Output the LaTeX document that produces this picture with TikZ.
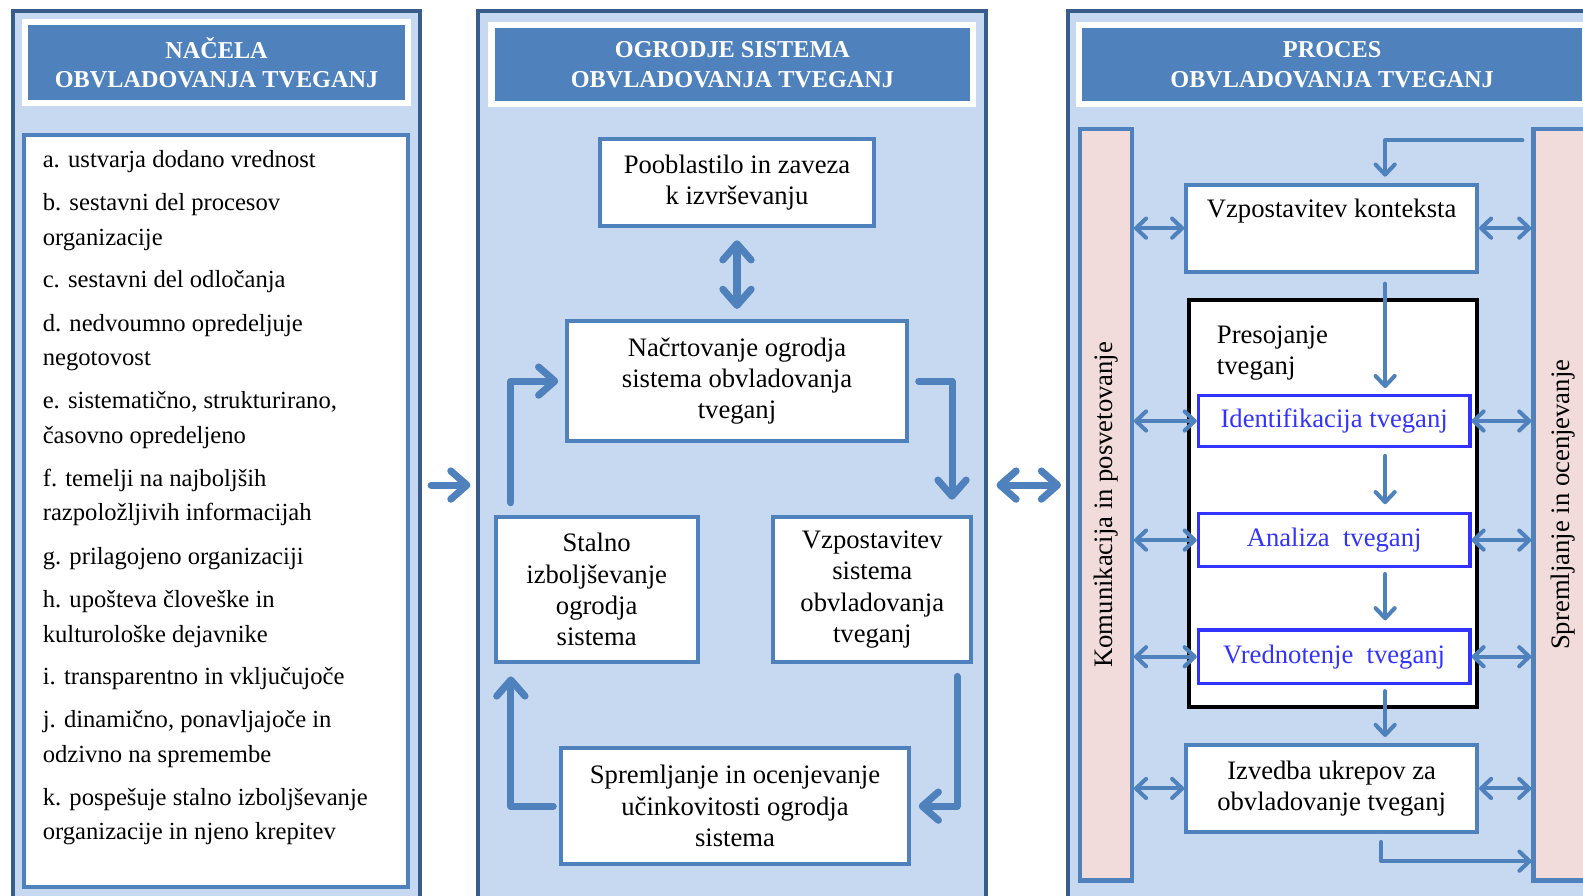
\documentclass[tikz,border=0pt]{standalone}
\usepackage{fontspec}
\setmainfont{Liberation Serif}
\usetikzlibrary{arrows.meta,calc}
\definecolor{panelfill}{HTML}{C6D9F1}
\definecolor{paneldraw}{HTML}{385D8A}
\definecolor{accent}{HTML}{4F81BD}
\definecolor{pinkbar}{HTML}{F2DCDB}
\definecolor{stepblue}{HTML}{3333FF}

\begin{document}
\begin{tikzpicture}[x=0.5pt,y=-0.5pt,
	panelbg/.style={draw=paneldraw,fill=panelfill,line width=2pt,inner sep=0pt},
	headbox/.style={draw=white,fill=accent,line width=3.2pt,text=white,align=center,inner sep=0pt,
		font=\bfseries\fontsize{12}{14.5}\selectfont},
	stepbox/.style={draw=accent,fill=white,line width=2pt,align=center,inner sep=0pt,
		font=\fontsize{13.2}{15.5}\selectfont},
	riskbox/.style={draw=stepblue,fill=white,line width=1.6pt,text=stepblue,inner sep=0pt,
		minimum width=134.5pt,font=\fontsize{13.2}{15.5}\selectfont},
	sidebar/.style={draw=accent,fill=pinkbar,line width=2.2pt,inner sep=0pt,
		font=\fontsize{13.2}{15.5}\selectfont},
	listitem/.style={anchor=base west,align=left,inner sep=0pt,font=\fontsize{12.2}{17}\selectfont},
	bigflow/.style={accent,line width=3.5pt,line cap=round,line join=round,
		-{Straight Barb[length=8pt,width=14pt,round]}},
	bigbiflow/.style={bigflow,{Straight Barb[length=8pt,width=14pt,round]}-{Straight Barb[length=8pt,width=14pt,round]}},
	flow/.style={accent,line width=2pt,line cap=round,line join=round,
		-{Straight Barb[length=5pt,width=9.5pt,round]}},
	biflow/.style={flow,{Straight Barb[length=5pt,width=9.5pt,round]}-{Straight Barb[length=5pt,width=9.5pt,round]}}
	]
	\useasboundingbox (0,0) rectangle (1568,887);
	\clip (0,0) rectangle (1568,887);

	% three panels
	\node[panelbg,minimum width=201.5pt,minimum height=469.5pt] (npan) at (214.5,480.5) {};
	\node[panelbg,minimum width=252pt,minimum height=469.5pt] (opan) at (725,480.5) {};
	\node[panelbg,minimum width=271pt,minimum height=469.5pt] (ppan) at (1329,480.5) {};

	\node[headbox,minimum width=189.5pt,minimum height=40pt] (nhead) at (214.5,62) {NAČELA\\OBVLADOVANJA TVEGANJ};
	\node[headbox,minimum width=238.5pt,minimum height=39pt] (ohead) at (725.5,64) {OGRODJE SISTEMA\\OBVLADOVANJA TVEGANJ};
	\node[headbox,minimum width=250.5pt,minimum height=39pt] (phead) at (1319.5,64) {PROCES\\OBVLADOVANJA TVEGANJ};

	% principles (y = baseline of the last line)
	\node[stepbox,minimum width=190pt,minimum height=372.5pt] (lst) at (214,506.5) {};
	\foreach \y/\txt [count=\i] in {166/{a. ustvarja dodano vrednost},
		243/{b. sestavni del procesov\\organizacije},
		285/{c. sestavni del odločanja},
		362/{d. nedvoumno opredeljuje\\negotovost},
		439/{e. sistematično, strukturirano,\\časovno opredeljeno},
		516/{f. temelji na najboljših\\razpoložljivih informacijah},
		559/{g. prilagojeno organizaciji},
		636/{h. upošteva človeške in\\kulturološke dejavnike},
		678/{i. transparentno in vključujoče},
		755/{j. dinamično, ponavljajoče in\\odzivno na spremembe},
		832/{k. pospešuje stalno izboljševanje\\organizacije in njeno krepitev}}
		\node[listitem] (item\i) at (42,\y) {\txt};

	% framework
	\node[stepbox,minimum width=136pt,minimum height=43pt] (poob) at (730,181) {Pooblastilo in zaveza\\k izvrševanju};
	\node[stepbox,minimum width=168pt,minimum height=59.5pt] (nacrt) at (730,377.5) {Načrtovanje ogrodja\\sistema obvladovanja\\tveganj};
	\node[stepbox,minimum width=100pt,minimum height=72pt] (stal) at (591,584) {Stalno\\izboljševanje\\ogrodja\\sistema};
	\node[stepbox,minimum width=98pt,minimum height=72pt] (vsis) at (864,584) {Vzpostavitev\\sistema\\obvladovanja\\tveganj};
	\node[stepbox,minimum width=172pt,minimum height=57.5pt] (sprem) at (728,798.5) {Spremljanje in ocenjevanje\\učinkovitosti ogrodja\\sistema};

	\draw[bigbiflow,shorten <=6pt,shorten >=5pt] (poob.south) -- (nacrt.north);
	\draw[bigflow] ($(stal.north west)+(17,-12)$) |- ($(nacrt.west)+(-7,0)$);
	\draw[bigflow] ($(nacrt.east)+(10,0)$) -| ($(vsis.north east)+(-21,-15)$);
	\draw[bigflow] ($(vsis.south east)+(-16,12)$) |- ($(sprem.east)+(8,0)$);
	\draw[bigflow] ($(sprem.west)+(-6,0)$) -| ($(stal.south west)+(17,12)$);

	\draw[bigflow,shorten <=4.5pt,shorten >=2.5pt] (npan.east) -- (opan.west);
	\draw[bigbiflow,shorten <=4pt,shorten >=2.5pt] (opan.east) -- (ppan.west);

	% process
	\node[sidebar,minimum width=25.5pt,minimum height=372pt] (kom) at (1095.5,500) {\rotatebox{90}{Komunikacija in posvetovanje}};
	\node[sidebar,minimum width=29pt,minimum height=372pt] (sprbar) at (1548,500) {\rotatebox{90}{Spremljanje in ocenjevanje}};

	\node[stepbox,minimum width=144pt,minimum height=43pt] (ctx) at (1319,226) {Vzpostavitev konteksta\\\strut};
	\node[draw=black,fill=white,line width=2pt,minimum width=142.5pt,minimum height=201.5pt] (pres) at (1320.5,498.5) {};
	\node[listitem,font=\fontsize{13.2}{15.5}\selectfont] (preslbl) at (1205,371) {Presojanje\\tveganj};
	\node[riskbox,minimum height=25pt] (ident) at (1321.5,417) {Identifikacija tveganj};
	\node[riskbox,minimum height=26pt] (anal) at (1321.5,535) {Analiza~ tveganj};
	\node[riskbox,minimum height=26.5pt] (vred) at (1321.5,650.5) {Vrednotenje~ tveganj};
	\node[stepbox,minimum width=144pt,minimum height=43pt] (izv) at (1319,781) {Izvedba ukrepov za\\obvladovanje tveganj};

	\coordinate (col) at (1372,0);
	\coordinate (feed) at (1508,139);
	\coordinate (outlet) at (1517,853);

	\draw[flow,shorten >=3pt] (feed) -| (col |- ctx.north);
	\draw[flow,shorten <=5pt,shorten >=3pt] (col |- ctx.south) -- (col |- ident.north);
	\draw[flow,shorten <=4pt,shorten >=4pt] (col |- ident.south) -- (col |- anal.north);
	\draw[flow,shorten <=3pt,shorten >=4pt] (col |- anal.south) -- (col |- vred.north);
	\draw[flow,shorten <=3pt,shorten >=3pt] (col |- vred.south) -- (col |- izv.north);
	\draw[flow,shorten <=4pt] ($(col |- izv.south)+(-4,0)$) |- (outlet);

	\foreach \b in {ctx,ident,anal,vred,izv} {
		\draw[biflow] (kom.east |- \b.west) -- (\b.west);
		\draw[biflow] (\b.east) -- (sprbar.west |- \b.east);
	}
\end{tikzpicture}
\end{document}
